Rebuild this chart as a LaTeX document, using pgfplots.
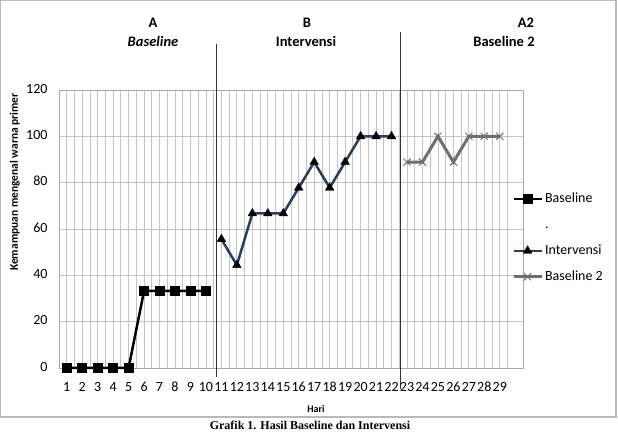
\documentclass[border=0pt]{standalone}
\usepackage{fontspec}
\setmainfont{Carlito}
\newfontfamily\serifcap{Liberation Serif}
\usepackage{pgfplots}
\pgfplotsset{compat=1.18}
\definecolor{gridc}{HTML}{C4C4C4}
\definecolor{intc}{HTML}{243F60}
\definecolor{b2c}{HTML}{6E6E6E}
\begin{document}
\begin{tikzpicture}[x=1pt,y=1pt]
\useasboundingbox (0,0) rectangle (618,433);
\draw[gray!55, line width=1.2pt] (0.6,432.4) rectangle (616,16);
\begin{axis}[
 at={(59pt,65pt)}, anchor=south west, scale only axis, width=464pt, height=278pt,
 xmin=0.5, xmax=30.5, ymin=0, ymax=120,
 xtick={1,...,29}, minor xtick={0.5,1.5,...,30.5}, ytick={0,20,...,120},
 grid=both,
 major grid style={gridc, line width=0.8pt},
 minor grid style={gridc, line width=0.8pt},
 major tick length=0pt, minor tick length=0pt,
 axis line style={gridc!85!black, line width=0.8pt},
 tick label style={font=\fontsize{14}{16}\selectfont},
 /pgf/number format/assume math mode=true,
 typeset ticklabels with strut,
 xticklabel style={yshift=-9pt},
 yticklabel style={xshift=-8pt},
 xlabel={Hari}, ylabel={Kemampuan mengenal warna primer},
 every axis x label/.style={at={(rel axis cs:0.554,-0.147)}, anchor=center, font=\bfseries\fontsize{10}{12}\selectfont},
 every axis y label/.style={at={(rel axis cs:-0.095,0.669)}, rotate=90, anchor=center, font=\bfseries\fontsize{11.5}{13}\selectfont},
 legend style={at={(rel axis cs:0.976,0.64)}, anchor=north west, draw=none, fill=none,
   font=\fontsize{14}{16}\selectfont, row sep=9pt, inner sep=0pt,
   nodes={text height=10pt, text depth=3pt}},
 legend cell align=left,
 legend image code/.code={\draw[mark repeat=2,mark phase=2,#1] plot coordinates {(0pt,0pt) (14pt,0pt) (28pt,0pt)};},
 clip=false,
]
\addplot[black, line width=2.5pt, mark=square*, mark size=4.5pt, mark options={solid, line width=0.5pt}]
 coordinates {(1,0)(2,0)(3,0)(4,0)(5,0)(6,33.3)(7,33.3)(8,33.3)(9,33.3)(10,33.3)};
\addlegendentry{Baseline}
\addlegendimage{empty legend}
\addlegendentry{.}
\addplot[intc, line width=2.5pt, mark=triangle*, mark size=5pt, mark options={solid, fill=black, draw=black, line width=0.4pt}]
 coordinates {(11,55.6)(12,44.4)(13,66.7)(14,66.7)(15,66.7)(16,77.8)(17,88.9)(18,77.8)(19,88.9)(20,100)(21,100)(22,100)};
\addlegendentry{Intervensi}
\addplot[b2c, line width=3pt, mark=x, mark size=5pt, mark options={solid, draw=b2c, line width=1pt}]
 coordinates {(23,88.9)(24,88.9)(25,100)(26,88.9)(27,100)(28,100)(29,100)};
\addlegendentry{Baseline 2}
\end{axis}
\node[font=\bfseries\fontsize{14.5}{16}\selectfont] at (153,410) {A};
\node[font=\bfseries\itshape\fontsize{14.5}{16}\selectfont] at (153,392) {Baseline};
\node[font=\bfseries\fontsize{14.5}{16}\selectfont] at (307,410) {B};
\node[font=\bfseries\fontsize{14.5}{16}\selectfont] at (306,392) {Intervensi};
\node[font=\bfseries\fontsize{14.5}{16}\selectfont] at (526,410) {A2};
\node[font=\bfseries\fontsize{14.5}{16}\selectfont] at (504,392) {Baseline 2};
\draw[black!80, line width=1pt] (216,389) -- (216,56);
\draw[black!80, line width=1pt] (400,401) -- (400,44);
\node[font=\serifcap\bfseries\fontsize{12}{14}\selectfont, anchor=base] at (310,3) {Grafik 1. Hasil Baseline dan Intervensi};
\end{tikzpicture}
\end{document}
